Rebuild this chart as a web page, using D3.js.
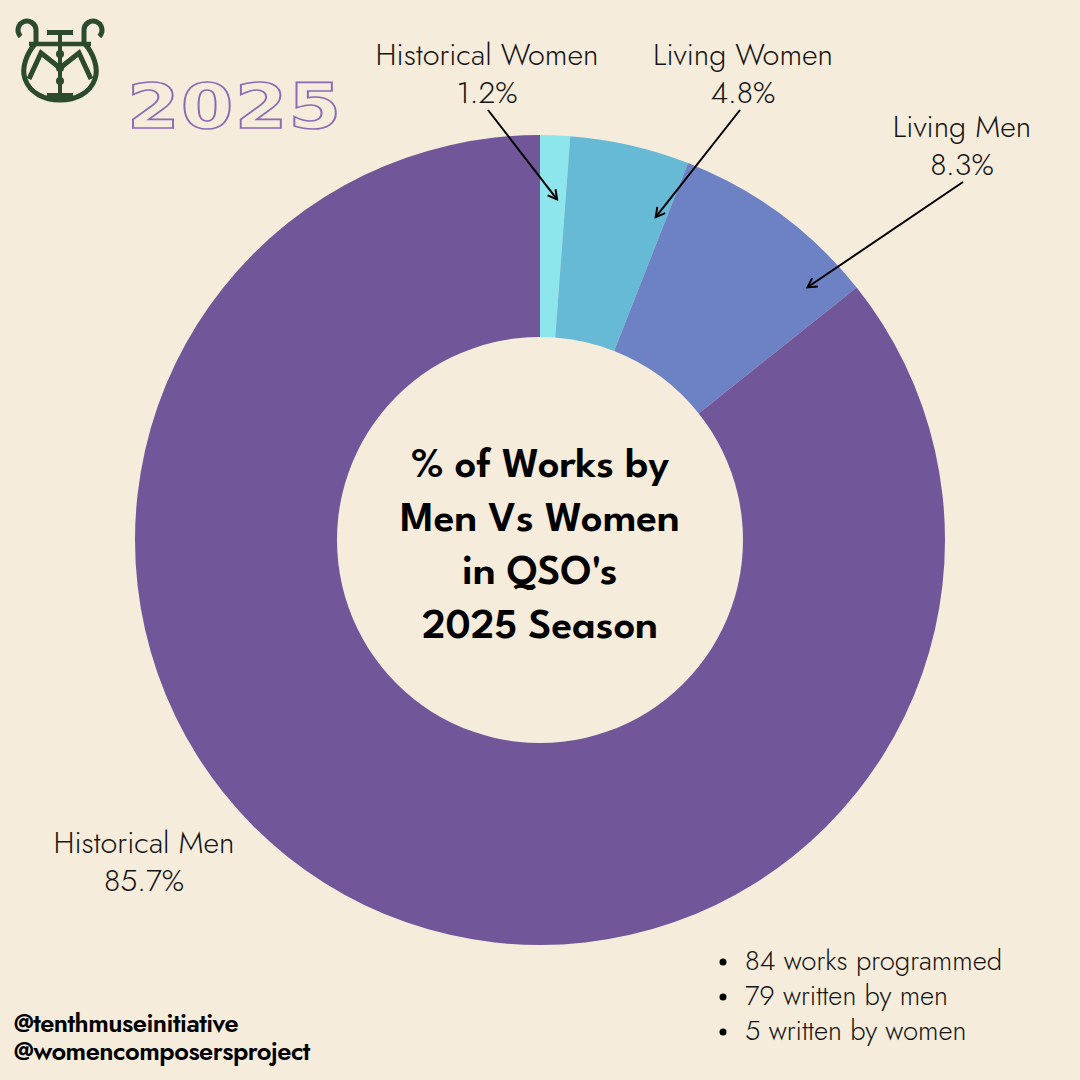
<!DOCTYPE html>
<html>
<head>
<meta charset="utf-8">
<script src="https://cdn.jsdelivr.net/npm/d3@7"></script>
<style>
  html, body { margin: 0; padding: 0; background: #f5ecdc; }
  svg { display: block; }
</style>
</head>
<body>
<svg id="chart" width="1080" height="1080"></svg>
<script>
// Works programmed in the 2025 season, by composer group
const categories = ["Historical Women", "Living Women", "Living Men", "Historical Men"];
const workCounts = [1, 4, 7, 72];
const summaryLines = ["84 works programmed", "79 written by men", "5 written by women"];
const centerTitle = ["% of Works by", "Men Vs Women", "in QSO's", "2025 Season"];
const handles = ["@tenthmuseinitiative", "@womencomposersproject"];
const seasonLabel = "2025";

const W = 1080, H = 1080;
const cx = 540, cy = 540;
const outerR = 405, innerR = 203;

const svg = d3.select("#chart");
svg.append("rect").attr("width", W).attr("height", H).attr("fill", "#f5ecdc");

const color = d3.scaleOrdinal()
  .domain(categories)
  .range(["#8de6ec", "#67bad5", "#6c82c4", "#715799"]);

const total = d3.sum(workCounts);
const pctFmt = d3.format(".1%");
const rows = categories.map((c, i) => ({ category: c, count: workCounts[i] }));

const pie = d3.pie().sort(null).value(d => d.count);
const arcs = pie(rows);
const arc = d3.arc().innerRadius(innerR).outerRadius(outerR);

const g = svg.append("g").attr("transform", `translate(${cx},${cy})`);
g.selectAll("path.slice")
  .data(arcs)
  .join("path")
  .attr("class", "slice")
  .attr("d", arc)
  .attr("fill", d => color(d.data.category));

// Arrow marker for callouts
svg.append("defs").append("marker")
  .attr("id", "arrow")
  .attr("viewBox", "0 0 12 12")
  .attr("refX", 10).attr("refY", 6)
  .attr("markerWidth", 12).attr("markerHeight", 12)
  .attr("markerUnits", "userSpaceOnUse")
  .attr("orient", "auto")
  .append("path")
  .attr("d", "M1,1 L10,6 L1,11")
  .attr("fill", "none")
  .attr("stroke", "#000")
  .attr("stroke-width", 2);

const labelFont = "'Jost', 'Lato', 'Noto Sans', sans-serif";

// Callout layout: label anchor, arrow start, and where along the slice the tip lands
const callouts = [
  { category: "Historical Women", x: 487, y: 65, sx: 488, sy: 110, t: 0.67, r: 341, arrow: true },
  { category: "Living Women", x: 743, y: 65, sx: 740, sy: 110, t: 0.9, r: 343, arrow: true },
  { category: "Living Men", x: 962, y: 137, sx: 963, sy: 182, t: 0.84, r: 368, arrow: true },
  { category: "Historical Men", x: 144, y: 853, arrow: false }
];

callouts.forEach(c => {
  const a = arcs.find(d => d.data.category === c.category);
  const lines = [a.data.category, pctFmt(a.data.count / total)];
  lines.forEach((txt, k) => {
    svg.append("text")
      .attr("x", c.x).attr("y", c.y + k * 38)
      .attr("text-anchor", "middle")
      .attr("font-family", labelFont)
      .attr("font-weight", 300)
      .attr("font-size", 30.5)
      .attr("fill", "#141414")
      .text(txt);
  });

  if (c.arrow) {
    const ang = a.startAngle + c.t * (a.endAngle - a.startAngle);
    const tx = cx + c.r * Math.sin(ang);
    const ty = cy - c.r * Math.cos(ang);
    svg.append("line")
      .attr("x1", c.sx).attr("y1", c.sy)
      .attr("x2", tx).attr("y2", ty)
      .attr("stroke", "#000")
      .attr("stroke-width", 2)
      .attr("marker-end", "url(#arrow)");
  }
});

// Center title
const title = svg.append("text")
  .attr("text-anchor", "middle")
  .attr("font-family", "'League Spartan', 'Lato', 'Noto Sans', sans-serif")
  .attr("font-weight", 600)
  .attr("font-size", 42.5)
  .attr("fill", "#000");
centerTitle.forEach((line, i) => {
  title.append("tspan")
    .attr("x", cx)
    .attr("y", 477 + i * 53.5)
    .text(line);
});

// Summary bullets
const bullets = svg.append("g");
summaryLines.forEach((line, i) => {
  const y = 970 + i * 35;
  bullets.append("circle").attr("cx", 723).attr("cy", y - 8).attr("r", 3.5).attr("fill", "#000");
  bullets.append("text")
    .attr("x", 745).attr("y", y)
    .attr("font-family", labelFont)
    .attr("font-weight", 300)
    .attr("font-size", 27.5)
    .attr("fill", "#141414")
    .text(line);
});

// Social handles
handles.forEach((h, i) => {
  svg.append("text")
    .attr("x", 14).attr("y", 1032 + i * 28)
    .attr("font-family", labelFont)
    .attr("font-weight", 600)
    .attr("font-size", 25.5)
    .attr("letter-spacing", -0.5)
    .attr("fill", "#000")
    .text(h);
});

// Outlined season year
svg.append("text")
  .attr("transform", "translate(127,128) scale(1.22,1)")
  .attr("font-family", "'DejaVu Sans', sans-serif")
  .attr("font-weight", 700)
  .attr("font-size", 62)
  .attr("letter-spacing", 1)
  .attr("fill", "#f5ecdc")
  .attr("stroke", "#8a6bb4")
  .attr("stroke-width", 1.6)
  .text(seasonLabel);

// Lyre emblem
const green = "#2c4a2e";
const logo = svg.append("g").attr("fill", "none").attr("stroke", green).attr("stroke-linecap", "butt");
// bowl
logo.append("path")
  .attr("d", "M35,44 C27,53 21,68 25,79 C30,93 44,100 60,100 C76,100 90,93 95,79 C99,68 93,53 85,44")
  .attr("stroke-width", 5);
// scroll arms
logo.append("path")
  .attr("d", "M36,46 L36,30 A9,9 0 1 0 20.6,36.4")
  .attr("stroke-width", 5);
logo.append("path")
  .attr("d", "M84,46 L84,30 A9,9 0 1 1 99.4,36.4")
  .attr("stroke-width", 5);
// crossbar
logo.append("line").attr("x1", 29).attr("y1", 44).attr("x2", 91).attr("y2", 44).attr("stroke-width", 4.5);
// T top
logo.append("line").attr("x1", 47).attr("y1", 32.5).attr("x2", 73).attr("y2", 32.5).attr("stroke-width", 5);
// stem
logo.append("line").attr("x1", 60).attr("y1", 32).attr("x2", 60).attr("y2", 94).attr("stroke-width", 4);
// base
logo.append("line").attr("x1", 47).attr("y1", 95.5).attr("x2", 73).attr("y2", 95.5).attr("stroke-width", 5);
// M strokes
logo.append("path")
  .attr("d", "M29,79 L41,53 L60,68 L79,53 L91,79")
  .attr("stroke-width", 5)
  .attr("stroke-linejoin", "miter");
// beads on stem
[54, 68, 81].forEach(y => {
  logo.append("circle").attr("cx", 60).attr("cy", y).attr("r", 4).attr("fill", green).attr("stroke", "none");
});
</script>
</body>
</html>
